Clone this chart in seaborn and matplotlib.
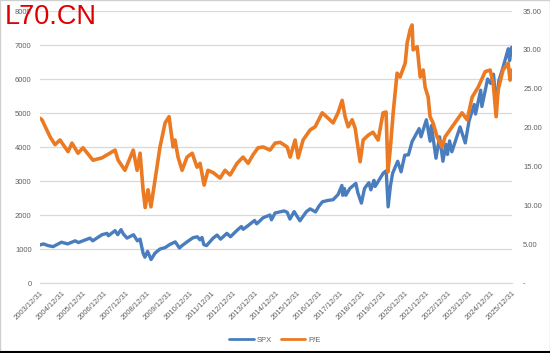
import pandas as pd
import matplotlib.pyplot as plt
from matplotlib.lines import Line2D
import seaborn as sns

# S&P 500 index level (left axis)
spx_dates = ["2003-12-31", "2004-03-01", "2004-05-15", "2004-08-10", "2004-12-31", "2005-04-15",
             "2005-08-20", "2005-10-15", "2006-05-01", "2006-06-15", "2006-11-20", "2007-02-15",
             "2007-03-10", "2007-07-01", "2007-08-15", "2007-10-10", "2007-11-20", "2008-01-20",
             "2008-05-10", "2008-07-15", "2008-08-30", "2008-10-20", "2008-11-20", "2009-01-05",
             "2009-03-05", "2009-05-12", "2009-08-04", "2009-10-30", "2010-01-15", "2010-04-20",
             "2010-07-01", "2010-08-15", "2010-11-07", "2011-02-15", "2011-05-01", "2011-06-15",
             "2011-07-20", "2011-08-20", "2011-10-05", "2012-01-26", "2012-04-01", "2012-06-01",
             "2012-09-15", "2012-11-15", "2013-03-08", "2013-05-20", "2013-06-20", "2013-09-13",
             "2013-12-31", "2014-02-05", "2014-05-27", "2014-09-20", "2014-10-15", "2014-12-16",
             "2015-05-20", "2015-07-09", "2015-08-25", "2015-11-05", "2016-02-11", "2016-06-01",
             "2016-08-04", "2016-11-03", "2016-12-31", "2017-03-01", "2017-06-06", "2017-08-29",
             "2017-11-21", "2018-01-26", "2018-02-08", "2018-03-10", "2018-04-02", "2018-06-10",
             "2018-09-20", "2018-10-25", "2018-12-24", "2019-02-15", "2019-04-30", "2019-06-03",
             "2019-07-26", "2019-08-15", "2019-12-31", "2020-02-19", "2020-03-23", "2020-05-01",
             "2020-06-08", "2020-09-02", "2020-10-30", "2020-12-31", "2021-03-04", "2021-05-05",
             "2021-09-02", "2021-10-04", "2022-01-03", "2022-03-08", "2022-03-29", "2022-06-16",
             "2022-08-16", "2022-10-12", "2022-12-01", "2022-12-28", "2023-02-02", "2023-03-13",
             "2023-07-31", "2023-10-27", "2023-12-31", "2024-03-28", "2024-04-19", "2024-07-16",
             "2024-08-05", "2024-11-11", "2025-01-02", "2025-02-19", "2025-04-08", "2025-05-20",
             "2025-07-31", "2025-10-28", "2025-11-20", "2025-12-24"]
spx_values = [1120, 1150, 1100, 1070, 1200, 1150,
              1240, 1190, 1320, 1240, 1420, 1460,
              1390, 1540, 1420, 1570, 1440, 1320,
              1420, 1240, 1290, 880, 760, 930,
              690, 880, 1000, 1040, 1130, 1210,
              1030, 1100, 1210, 1330, 1360, 1270,
              1340, 1130, 1100, 1320, 1410, 1290,
              1460, 1360, 1550, 1660, 1580, 1690,
              1840, 1740, 1920, 2000, 1860, 2060,
              2120, 2080, 1880, 2100, 1830, 2100,
              2180, 2090, 2260, 2390, 2430, 2450,
              2600, 2870, 2580, 2780, 2580, 2780,
              2930, 2650, 2350, 2780, 2950, 2740,
              3020, 2840, 3230, 3300, 2240, 2850,
              3230, 3580, 3270, 3760, 3770, 4160,
              4540, 4300, 4800, 4170, 4630, 3670,
              4300, 3580, 4080, 3780, 4180, 3860,
              4590, 4120, 4770, 5250, 4970, 5670,
              5190, 6000, 5870, 6140, 5200, 5940,
              6340, 6890, 6540, 6930]

# P/E ratio (right axis)
pe_dates = ["2003-12-31", "2004-02-03", "2004-06-20", "2004-09-12", "2004-12-05", "2005-04-22",
            "2005-06-27", "2005-10-08", "2006-01-01", "2006-06-20", "2006-11-20", "2007-07-01",
            "2007-08-22", "2007-12-16", "2008-05-05", "2008-07-10", "2008-08-30", "2008-10-20",
            "2008-11-25", "2009-01-12", "2009-03-03", "2009-05-12", "2009-08-04", "2009-10-30",
            "2010-01-05", "2010-03-15", "2010-04-17", "2010-06-07", "2010-08-15", "2010-11-07",
            "2011-02-03", "2011-04-27", "2011-06-17", "2011-08-25", "2011-10-30", "2012-01-26",
            "2012-05-23", "2012-08-15", "2012-11-10", "2013-03-08", "2013-06-18", "2013-09-13",
            "2013-12-05", "2014-03-01", "2014-05-27", "2014-09-20", "2014-12-16", "2015-03-12",
            "2015-07-09", "2015-08-29", "2015-11-21", "2016-01-12", "2016-04-05", "2016-08-04",
            "2016-10-27", "2017-02-25", "2017-06-06", "2017-08-29", "2017-11-21", "2018-01-30",
            "2018-03-22", "2018-05-12", "2018-07-20", "2018-09-09", "2018-12-02", "2019-01-23",
            "2019-04-16", "2019-07-09", "2019-10-05", "2019-12-28", "2020-02-17", "2020-03-20",
            "2020-04-27", "2020-06-17", "2020-08-22", "2020-10-12", "2021-01-08", "2021-02-10",
            "2021-04-02", "2021-05-05", "2021-05-23", "2021-07-31", "2021-09-20", "2021-11-10",
            "2021-12-13", "2022-02-03", "2022-03-07", "2022-04-27", "2022-07-05", "2022-09-27",
            "2022-11-17", "2023-02-09", "2023-06-10", "2023-09-02", "2023-11-28", "2024-02-21",
            "2024-06-03", "2024-10-01", "2024-12-24", "2025-02-14", "2025-04-05", "2025-05-08",
            "2025-07-31", "2025-10-27", "2025-11-28", "2025-12-31"]
pe_values = [21.2, 21.0, 18.8, 17.8, 18.4, 16.9,
             18.0, 16.7, 17.4, 15.8, 16.1, 17.1,
             15.8, 14.5, 17.1, 14.5, 16.7, 12.0,
             9.7, 12.0, 9.8, 13.3, 17.5, 20.6,
             21.4, 17.5, 18.4, 16.2, 14.5, 16.2,
             16.7, 14.9, 15.4, 12.6, 14.5, 14.2,
             13.5, 14.5, 13.9, 15.4, 16.2, 15.4,
             16.5, 17.4, 17.5, 17.1, 18.0, 18.1,
             17.5, 16.2, 18.4, 16.1, 18.4, 19.7,
             20.1, 21.9, 21.2, 20.6, 21.9, 23.5,
             21.4, 20.1, 21.0, 19.9, 15.6, 18.4,
             19.0, 19.4, 18.4, 21.9, 22.0, 14.3,
             17.1, 21.9, 27.0, 26.5, 28.3, 30.9,
             32.6, 33.2, 30.0, 30.4, 26.5, 27.4,
             25.2, 23.9, 21.4, 20.6, 18.8, 17.5,
             18.8, 19.7, 21.0, 21.9, 21.0, 23.9,
             25.2, 27.2, 27.4, 25.7, 21.4, 24.8,
             27.4, 28.3, 26.1, 27.4]

tick_years = list(range(2003, 2026))
left_ticks = [0, 1000, 2000, 3000, 4000, 5000, 6000, 7000, 8000]
right_ticks = [0, 5, 10, 15, 20, 25, 30, 35]

spx = pd.DataFrame({"date": pd.to_datetime(spx_dates), "value": spx_values})
pe = pd.DataFrame({"date": pd.to_datetime(pe_dates), "value": pe_values})

sns.set_style("white")
plt.rcParams["font.family"] = ["Liberation Sans", "DejaVu Sans"]

blue = "#4a7dbd"
orange = "#eb7a22"
grey = "#606060"

fig = plt.figure(figsize=(5.5, 3.53), dpi=100)
ax = fig.add_axes([40 / 550, 1 - 283 / 353, 472 / 550, 272 / 353])
ax2 = ax.twinx()

sns.lineplot(data=spx, x="date", y="value", ax=ax, color=blue, linewidth=2.4, label="SPX", legend=False)
sns.lineplot(data=pe, x="date", y="value", ax=ax2, color=orange, linewidth=2.6, label="P/E", legend=False)

ax.set_ylim(0, 8000)
ax2.set_ylim(0, 35)
ax.set_yticks(left_ticks)
ax.set_yticklabels([str(v) for v in left_ticks], fontsize=5.5, color=grey)
ax2.set_yticks(right_ticks)
ax2.set_yticklabels(["-" if v == 0 else f"{v:.2f}" for v in right_ticks], fontsize=5.5, color=grey)

tick_dates = pd.to_datetime([f"{y}-12-31" for y in tick_years])
ax.set_xlim(tick_dates[0], tick_dates[-1])
ax.set_xticks(tick_dates)
ax.set_xticklabels([f"{y}/12/31" for y in tick_years], rotation=45, ha="right",
                   rotation_mode="anchor", fontsize=5.5, color=grey)
ax.set_xlabel("")
ax.set_ylabel("")
ax2.set_ylabel("")

ax.grid(axis="y", color="#d9d9d9", linewidth=0.9)
ax.set_axisbelow(True)
for a in (ax, ax2):
    for s in a.spines.values():
        s.set_visible(False)
ax.spines["bottom"].set_visible(True)
ax.spines["bottom"].set_color("#d9d9d9")
ax.tick_params(axis="x", length=3, color="#d9d9d9", pad=2)
ax.tick_params(axis="y", length=0, pad=6)
ax2.tick_params(axis="y", length=0, pad=8)

handles = [Line2D([], [], color=blue, linewidth=2), Line2D([], [], color=orange, linewidth=2)]
fig.legend(handles, ["SPX", "P/E"], loc="center", bbox_to_anchor=(275 / 550, 1 - 340 / 353),
           ncol=2, frameon=False, fontsize=5.5, handlelength=3.2, columnspacing=1.2,
           handletextpad=0.4, labelcolor=grey)

fig.text(5 / 550, 1 - 4 / 353, "L70.CN", color="#dd0000", fontsize=19.5, ha="left", va="top")

fig.patches.append(plt.Rectangle((0, 0), 1, 1, transform=fig.transFigure, fill=False,
                                 edgecolor="#d0d0d0", linewidth=1))
fig.lines.append(Line2D([0, 1], [0.002, 0.002], transform=fig.transFigure, color="black", linewidth=1.5))

fig.savefig("out.png", dpi=100)
